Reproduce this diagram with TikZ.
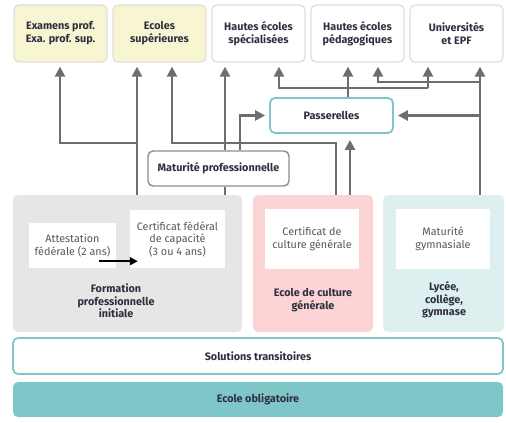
\documentclass[tikz,border=0pt]{standalone}
\usepackage{fontspec}
\setmainfont{Fira Sans}
\usetikzlibrary{arrows.meta}
\definecolor{txt}{HTML}{2E2E40}
\definecolor{txtg}{HTML}{55585E}
\definecolor{yel}{HTML}{F8F5D3}
\definecolor{bord}{HTML}{DEDEDA}
\definecolor{teal}{HTML}{7FC6C8}
\definecolor{fgray}{HTML}{E6E6E6}
\definecolor{fpink}{HTML}{FDD4D6}
\definecolor{fteal}{HTML}{DDEFEF}
\definecolor{arrc}{HTML}{6E6E6E}
\definecolor{mpb}{HTML}{8C8C8C}
\tikzset{
  box/.style args={#1/#2/#3/#4}{rectangle, rounded corners=5pt, inner sep=0pt,
    minimum width={(#3-#1)*1pt}, minimum height={(#4-#2)*1pt},
    at={({(#1+#3)/2},{(#2+#4)/2})}, align=center, font=\fontsize{10.8}{13}\selectfont\bfseries, text=txt},
  topbox/.style={draw=bord, line width=1.3pt},
  ybox/.style={topbox, fill=yel},
  wbox/.style={topbox, fill=white},
  inner/.style={rectangle, fill=white, inner sep=0pt, align=center,
    font=\fontsize{10.8}{12.5}\selectfont, text=txtg},
  lbl/.style={align=center, font=\fontsize{10.8}{12.5}\selectfont\bfseries, text=txt, inner sep=0pt},
  ln/.style={draw=arrc, line width=2.6pt},
  arr/.style={ln, -{Triangle[length=10pt,width=10pt]}, shorten >=4pt},
  barr/.style={draw=black, line width=1.8pt, -{Triangle[length=8pt,width=8pt]}},
}
\begin{document}
\begin{tikzpicture}[x=1pt,y=-1pt]
\useasboundingbox (0,0) rectangle (506,423);
% top boxes
\node[box=14/5/107/62, ybox] (ex) {Examens prof.\\Exa. prof. sup.};
\node[box=113/5/206/62, ybox] (es) {Ecoles\\supérieures};
\node[box=212/5/305/62, wbox] (hes) {Hautes écoles\\spécialisées};
\node[box=311/5/404/62, wbox] (hep) {Hautes écoles\\pédagogiques};
\node[box=410/5/503/62, wbox] (uni) {Universités\\et EPF};
% middle
\node[box=270/98/393/133, draw=teal, line width=1.8pt, fill=white] (pa) {Passerelles};
\node[box=148/151/289/186, draw=mpb, line width=1.4pt, fill=white] (mp) {Maturité professionnelle};
% containers
\node[box=13/195/242/332, fill=fgray] (fpi) {};
\node[box=253/195/373/332, fill=fpink] (ecg) {};
\node[box=383/195/504/332, fill=fteal] (gy) {};
\node[inner, minimum width=87pt, minimum height=45pt] (att) at (72.5,245.5) {Attestation\\fédérale (2 ans)};
\node[inner, minimum width=95pt, minimum height=58pt] (cfc) at (177.5,239) {Certificat fédéral\\de capacité\\(3 ou 4 ans)};
\node[inner, minimum width=94pt, minimum height=60pt] (ccg) at (312,239) {Certificat de\\culture générale};
\node[inner, minimum width=94pt, minimum height=60pt] (mg) at (443,239) {Maturité\\gymnasiale};
\node[lbl] (fpil) at (116,301) {Formation\\professionnelle\\initiale};
\node[lbl] (ecgl) at (313,300) {Ecole de culture\\générale};
\node[lbl] (gyl) at (444,300) {Lycée,\\collège,\\gymnase};
% bottom
\node[box=13/338/503/374, draw=teal, line width=1.8pt, fill=white] (st) {Solutions transitoires};
\node[box=13/382/503/417, fill=teal] (eo) {Ecole obligatoire};
% junction coordinates
\coordinate (j1) at (137,143);
\coordinate (j0) at (60,143);
\coordinate (e1) at (336,143);
\coordinate (e2) at (172,143);
\coordinate (m1) at (225,143);
\coordinate (m2) at (240,115);
\coordinate (p0) at (279,88);
\coordinate (p1) at (348,88);
\coordinate (p2) at (428,88);
\coordinate (g1) at (480,82);
\coordinate (g0) at (378,82);
\coordinate (c1) at (350,143);
% connectors
\draw[arr] (j1 |- fpi.north) -- (j1 |- es.south);
\draw[arr] (j1) -- (j0) -- (j0 |- ex.south);
\draw[arr] (e1 |- ecg.north) -- (e1) -- (e2) -- (e2 |- es.south);
\draw[ln] (m1 |- fpi.north) -- (m1 |- mp.south);
\draw[arr] (m1 |- mp.north) -- (m1 |- hes.south);
\draw[arr] (m2 |- mp.north) -- (m2 |- pa.west) -- (pa.west);
\draw[arr] (p1 |- pa.north) -- (p1 |- hep.south);
\draw[arr] (p0 -| p2) -- (p0) -- (p0 |- hes.south);
\draw[arr] (p2) -- (p2 |- uni.south);
\draw[arr] (g1 |- gy.north) -- (g1 |- uni.south);
\draw[arr] (g1) -- (g0) -- (g0 |- hep.south);
\draw[arr] (g1 |- pa.east) -- (pa.east);
\draw[arr, shorten >=6pt] (c1 |- ecg.north) -- (c1 |- pa.south);
\draw[barr] ([shift={(-17,-7)}]att.south east) -- ([shift={(8,-7)}]cfc.south west);
\end{tikzpicture}
\end{document}
